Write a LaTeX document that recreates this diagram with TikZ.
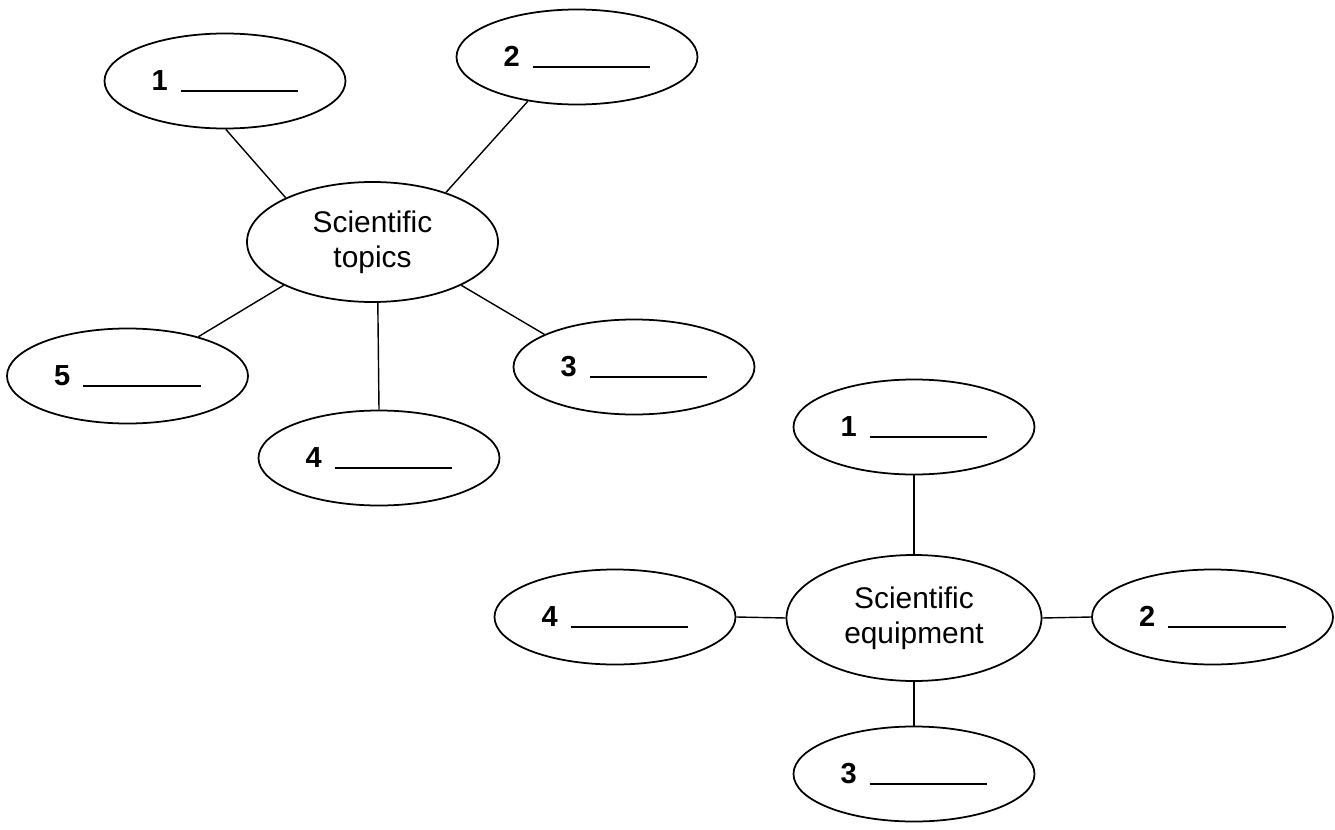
\documentclass[tikz,border=0pt]{standalone}
\usepackage{fontspec}
\setmainfont{Liberation Sans}
\usetikzlibrary{shapes.geometric}

\newcommand{\blank}[1]{\textbf{#1}\hspace{0.45em}\rule[-1pt]{67pt}{0.9pt}}

\begin{document}
\begin{tikzpicture}[
  bubble/.style={draw,ellipse,line width=1pt,inner sep=0pt,
    minimum width=4.82cm,minimum height=1.9cm,font=\fontsize{16.5}{19}\selectfont},
  hub/.style={bubble,align=center,font=\fontsize{17}{20}\selectfont},
  spoke/.style={line width=0.8pt}]
\useasboundingbox (0,0) rectangle (26.7,-16.6);
% First cluster: topics
\node [hub,minimum width=5.02cm,minimum height=2.4cm] (topics) at (7.45,-4.84) {Scientific\\topics};
\node [bubble] (t1) at (4.5,-1.62) {\blank{1}};
\node [bubble] (t2) at (11.54,-1.14) {\blank{2}};
\node [bubble] (t3) at (12.68,-7.34) {\blank{3}};
\node [bubble] (t4) at (7.58,-9.16) {\blank{4}};
\node [bubble] (t5) at (2.55,-7.52) {\blank{5}};
\draw[spoke] (t1.-89) -- (topics.153.6);
\draw[spoke] (t2.222.6) -- (topics.34.6);
\draw[spoke] (topics.-26.4) -- (t3.160);
\draw[spoke] (topics.-85) -- (t4.north);
\draw[spoke] (topics.206.7) -- (t5.29.7);
% Second cluster: equipment
\node [hub,minimum width=5.1cm,minimum height=2.52cm] (equip) at (18.28,-12.36) {Scientific\\equipment};
\node [bubble] (e1) at (18.28,-8.54) {\blank{1}};
\node [bubble] (e2) at (24.25,-12.34) {\blank{2}};
\node [bubble] (e3) at (18.28,-15.48) {\blank{3}};
\node [bubble] (e4) at (12.3,-12.34) {\blank{4}};
\draw[spoke] (e1.south) -- (equip.north);
\draw[spoke] (equip.east) -- (e2.west);
\draw[spoke] (equip.south) -- (e3.north);
\draw[spoke] (e4.east) -- (equip.west);
\end{tikzpicture}
\end{document}
